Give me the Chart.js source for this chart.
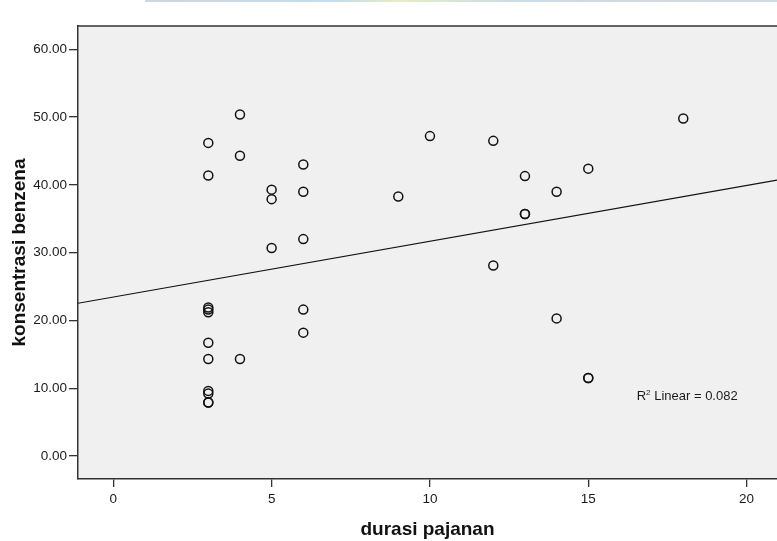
<!DOCTYPE html>
<html>
<head>
<meta charset="utf-8">
<title>durasi pajanan vs konsentrasi benzena</title>
<script src="https://cdn.jsdelivr.net/npm/chart.js@4/dist/chart.umd.min.js"></script>
<style>
  html, body { margin: 0; padding: 0; background: #fff; }
  #wrap { position: relative; width: 777px; height: 541px; }
  #strip {
    position: absolute; top: 0; left: 145px; width: 632px; height: 2px;
    background: linear-gradient(90deg, #cfd6de, #c4dcec 30%, #e6ecc8 40%, #c9dbe8 60%, #d4d8dc 80%, #cfdde8);
  }
</style>
</head>
<body>
<div id="wrap">
  <canvas id="chart"></canvas>
  <div id="strip"></div>
</div>
<script>
// scatter data
const durasi = [3, 3, 3, 3, 3, 3, 3, 3, 3, 3, 3, 4, 4, 4, 5, 5, 5, 6, 6, 6, 6, 6, 9, 10, 12, 12, 13, 13, 13, 14, 14, 15, 15, 15, 18];
const konsentrasi = [46.2, 41.4, 21.9, 21.6, 21.2, 16.7, 14.3, 9.6, 9.2, 7.9, 7.9, 50.4, 44.3, 14.3, 39.3, 37.9, 30.7, 43.0, 39.0, 32.0, 21.6, 18.2, 38.3, 47.2, 46.5, 28.1, 41.3, 35.7, 35.7, 39.0, 20.3, 42.4, 11.5, 11.5, 49.8];

// linear fit (R2 = 0.082)
const fitIntercept = 23.45;
const fitSlope = 0.824;
const rSquared = '0.082';

// axes
const xTicks = [0, 5, 10, 15, 20];
const yTicks = [0, 10, 20, 30, 40, 50, 60];
const xMin = -1.115, xMax = 20.96;
const yMin = -3.4, yMax = 63.45;

const points = durasi.map((d, i) => ({ x: d, y: konsentrasi[i] }));
const fitLine = [xMin, xMax].map(x => ({ x, y: fitIntercept + fitSlope * x }));

const FONT = "'Liberation Sans', Arial, sans-serif";

// plot background, top frame line and R2 note
const frame = {
  id: 'frame',
  beforeDraw(chart) {
    const { ctx, chartArea: { left, top, right, bottom } } = chart;
    ctx.save();
    ctx.fillStyle = '#f0f0f0';
    ctx.fillRect(left, top, right - left, bottom - top);
    ctx.restore();
  },
  afterDraw(chart) {
    const { ctx, chartArea: { left, top, right } } = chart;
    const xs = chart.scales.x, ys = chart.scales.y;
    ctx.save();
    ctx.strokeStyle = '#333';
    ctx.lineWidth = 1.5;
    ctx.beginPath();
    ctx.moveTo(left - 0.75, top);
    ctx.lineTo(right, top);
    ctx.stroke();

    let px = xs.getPixelForValue(16.53);
    const py = ys.getPixelForValue(8.75);
    ctx.fillStyle = '#1a1a1a';
    ctx.textBaseline = 'middle';
    ctx.font = `13px ${FONT}`;
    ctx.fillText('R', px, py);
    px += ctx.measureText('R').width;
    ctx.font = `8px ${FONT}`;
    ctx.fillText('2', px, py - 4);
    px += ctx.measureText('2').width;
    ctx.font = `13px ${FONT}`;
    ctx.fillText(' Linear = ' + rSquared, px, py);
    ctx.restore();
  }
};

new Chart(document.getElementById('chart'), {
  type: 'scatter',
  data: {
    datasets: [
      {
        label: 'konsentrasi benzena',
        data: points,
        pointRadius: 4.5,
        pointHoverRadius: 4.5,
        pointBorderWidth: 1.5,
        borderColor: '#111',
        backgroundColor: 'rgba(0,0,0,0)',
      },
      {
        type: 'line',
        label: 'Linear',
        data: fitLine,
        borderColor: '#111',
        borderWidth: 1.2,
        pointRadius: 0,
        fill: false,
        tension: 0,
      },
    ],
  },
  options: {
    responsive: true,
    maintainAspectRatio: false,
    animation: false,
    layout: { autoPadding: false, padding: { top: 26, right: 0, left: 0, bottom: 0 } },
    plugins: {
      legend: { display: false },
      tooltip: { enabled: false },
    },
    scales: {
      x: {
        type: 'linear',
        min: xMin,
        max: xMax,
        afterBuildTicks: (s) => { s.ticks = xTicks.map(v => ({ value: v })); },
        afterFit: (s) => { s.height = 62; },
        ticks: {
          color: '#1a1a1a',
          font: { family: FONT, size: 13.5 },
          padding: 4,
          maxRotation: 0,
        },
        grid: {
          drawOnChartArea: false,
          color: '#333',
          lineWidth: 1.3,
          tickLength: 8,
        },
        border: { display: true, color: '#333', width: 1.5 },
        title: {
          display: true,
          text: 'durasi pajanan',
          color: '#111',
          font: { family: FONT, size: 19, weight: 'bold' },
          padding: { top: 0, bottom: 0 },
        },
      },
      y: {
        type: 'linear',
        min: yMin,
        max: yMax,
        afterBuildTicks: (s) => { s.ticks = yTicks.map(v => ({ value: v })); },
        afterFit: (s) => { s.width = 78; },
        ticks: {
          color: '#1a1a1a',
          font: { family: FONT, size: 13.5 },
          padding: 2,
          callback: (v) => Number(v).toFixed(2),
        },
        grid: {
          drawOnChartArea: false,
          color: '#333',
          lineWidth: 1.3,
          tickLength: 9,
        },
        border: { display: true, color: '#333', width: 1.5 },
        title: {
          display: true,
          text: 'konsentrasi benzena',
          color: '#111',
          font: { family: FONT, size: 19, weight: 'bold' },
          padding: { top: 8.5, bottom: 0 },
        },
      },
    },
  },
  plugins: [frame],
});
</script>
</body>
</html>
